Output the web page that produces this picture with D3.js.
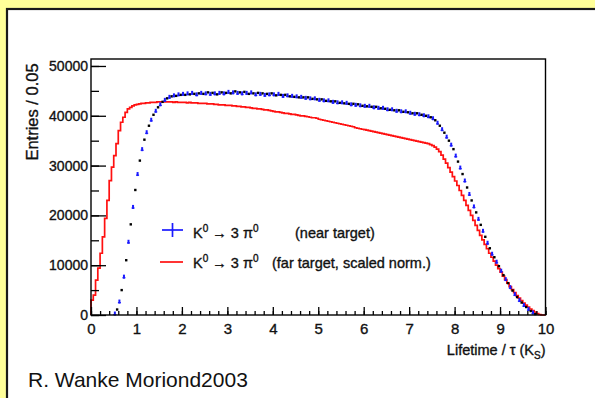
<!DOCTYPE html>
<html><head><meta charset="utf-8">
<script src="https://cdn.jsdelivr.net/npm/d3@7"></script>
<style>
html,body{margin:0;padding:0;background:#ffff99;}
svg{display:block;}
text{font-family:"Liberation Sans",Arial,Helvetica,sans-serif;}
.hv{fill:#111;stroke:#111;stroke-width:0.35px;}
</style></head>
<body>
<svg id="c" width="595" height="398"></svg>
<script>
// ---- data (bin width 0.05, bins start at 0.00) ----
const binWidth = 0.05;
const xDomain = [0, 10];
const yDomain = [0, 51400];
const xTickValues = [0,1,2,3,4,5,6,7,8,9,10];
const yTickValues = [0,10000,20000,30000,40000,50000];
const yTickLabels = ["0","10000","20000","30000","40000","50000"];

// near target (points)
const nearTarget = [
  0,0,0,0,0,0,0,0,0,0, 300,1100,2700,5000,7700,11000,14700,18200,21700,25100,
  28300,31000,33300,35200,36700,38000,39200,40200,41000,41700,42300,42800,43200,43500,43800,43900,44100,44000,44300,44200,
  44400,44200,44500,44300,44600,44400,44300,44500,44600,44400,44500,44700,44400,44600,44500,44300,44600,44700,44500,44600,
  44800,44500,44700,44900,44600,44700,44500,44800,44600,44400,44700,44500,44300,44600,44400,44500,44200,44400,44300,44500,
  44300,44100,44400,44200,44000,44200,44100,43900,44000,43800,43900,43700,43800,43700,43600,43700,43500,43400,43500,43300,
  43200,43300,43100,43000,43100,42900,42800,42900,42700,42600,42700,42500,42600,42400,42300,42400,42200,42300,42100,42000,
  42000,41900,42000,41800,41700,41800,41600,41500,41600,41400,41300,41200,41300,41100,41000,41100,40900,40800,40900,40700,
  40600,40500,40400,40500,40300,40200,40100,40000,39900,39700,39500,39100,38600,38000,37300,36600,35800,35000,34200,33300,
  32000,30800,29600,28300,27000,25600,24300,23000,21800,20600,19300,18100,16900,15700,14500,13400,12300,11600,10700,9800,
  8900,8000,7200,6400,5600,4900,4200,3600,3000,2500,2000,1600,1200,800,500,200,0,0,0,0
];
// far target, scaled norm. (histogram)
const farTarget = [
  3000,4000,7000,9400,12400,15700,19400,23000,27000,29700,32000,34400,37000,38700,39700,40700,41400,41700,42000,42200,
  42300,42400,42500,42500,42600,42600,42700,42700,42700,42800,42800,42800,42800,42800,42800,42800,42700,42800,42700,42700,
  42700,42700,42600,42700,42600,42600,42600,42500,42500,42500,42500,42400,42400,42400,42300,42300,42200,42200,42200,42100,
  42100,42100,42000,42000,41900,41900,41800,41800,41700,41700,41600,41500,41500,41400,41400,41300,41200,41200,41100,41000,
  40900,40800,40800,40700,40600,40500,40500,40400,40300,40300,40200,40100,40000,40000,39900,39800,39700,39600,39600,39500,
  39300,39200,39100,39000,38900,38800,38700,38600,38500,38400,38300,38200,38100,38000,37900,37800,37600,37500,37400,37300,
  37200,37100,37000,36900,36800,36700,36600,36500,36400,36300,36200,36100,36000,35900,35800,35700,35600,35500,35400,35300,
  35200,35100,35000,34900,34800,34700,34600,34500,34400,34200,34000,33700,33300,32800,32100,31300,30500,29600,28700,27800,
  26900,26000,25000,24000,23000,22000,21000,20000,19000,18000,17000,16000,15100,14200,13300,12400,11600,10800,10000,9300,
  8600,7800,7100,6400,5700,5100,4500,3900,3400,2900,2400,2000,1600,1200,900,600,300,100,0,0
];
const legendLabels = ["(near target)", "(far target, scaled norm.)"];
const xTitle = "Lifetime / \u03c4 (K";
const yTitle = "Entries / 0.05";
const footer = "R. Wanke Moriond2003";

// ---- drawing ----
const svg = d3.select("#c");
// white panel
svg.append("rect").attr("x",7).attr("y",9).attr("width",600).attr("height",400)
  .attr("fill","#fff").attr("stroke","#1a1a1a").attr("stroke-width",2.2);

const L=91, R=545.5, T=59, B=315;
const x = d3.scaleLinear().domain(xDomain).range([L,R]);
const y = d3.scaleLinear().domain(yDomain).range([B,T]);

// far target step histogram
const stepPts = [[0,0]];
farTarget.forEach((v,i)=>{ stepPts.push([i*binWidth, v]); stepPts.push([(i+1)*binWidth, v]); });
stepPts.push([xDomain[1],0]);
svg.append("path")
  .attr("d", d3.line().x(d=>x(d[0])).y(d=>y(d[1]))(stepPts))
  .attr("fill","none").attr("stroke","#ff1010").attr("stroke-width",1.7);

// near target points
const pts = nearTarget.map((v,i)=>({x:(i+0.5)*binWidth, v, i})).filter(d=>d.v>0);
const g = svg.append("g");
pts.forEach(d=>{
  const cx = x(d.x), cy = y(d.v);
  if (d.i % 2 === 0) {
    g.append("rect").attr("x",cx-1).attr("y",cy-2).attr("width",2).attr("height",4).attr("fill","#1a1aff");
    g.append("rect").attr("x",cx-1.5).attr("y",cy+0.5).attr("width",3).attr("height",1.2).attr("fill","#1a1aff");
  } else {
    g.append("rect").attr("x",cx-1.2).attr("y",cy-1.2).attr("width",2.4).attr("height",2.4).attr("fill","#000");
  }
});

// frame
svg.append("rect").attr("x",L).attr("y",T).attr("width",R-L).attr("height",B-T)
  .attr("fill","none").attr("stroke","#000").attr("stroke-width",1.4);

// x axis (ticks inward)
const xAxis = svg.append("g").attr("transform",`translate(0,${B})`);
xAxis.call(d3.axisBottom(x).tickValues(d3.range(0,10.001,0.2)).tickSize(-4).tickFormat(""))
  .call(s=>s.select(".domain").remove());
xAxis.append("g").call(d3.axisBottom(x).tickValues(xTickValues).tickSize(-8).tickFormat(d3.format("d")).tickPadding(16))
  .call(s=>s.select(".domain").remove());
xAxis.selectAll("line").attr("stroke","#000").attr("stroke-width",1.3);
xAxis.selectAll("text").attr("font-size",15).attr("class","hv").attr("dy","0.2em");

// y axis (ticks inward)
const yAxis = svg.append("g").attr("transform",`translate(${L},0)`);
yAxis.call(d3.axisLeft(y).tickValues(d3.range(0,50001,5000)).tickSize(-8).tickFormat(""))
  .call(s=>s.select(".domain").remove());
yAxis.append("g").call(d3.axisLeft(y).tickValues(yTickValues).tickSize(-15)
    .tickFormat((d,i)=>yTickLabels[i]).tickPadding(3))
  .call(s=>s.select(".domain").remove());
yAxis.selectAll("line").attr("stroke","#000").attr("stroke-width",1.3);
yAxis.selectAll("text").attr("font-size",14).attr("class","hv");

// axis titles
const xt = svg.append("text").attr("x",R).attr("y",355).attr("text-anchor","end")
  .attr("font-size",14.5).attr("class","hv");
xt.append("tspan").text(xTitle);
xt.append("tspan").attr("font-size",10).attr("dy",4).text("S");
xt.append("tspan").attr("dy",-4).text(")");

svg.append("text").attr("transform","translate(38,112) rotate(-90)").attr("text-anchor","middle")
  .attr("font-size",16.5).attr("class","hv").text(yTitle);

// legend
function decay(t){
  t.append("tspan").text("K");
  t.append("tspan").attr("font-size",10).attr("dy",-6).text("0");
  t.append("tspan").attr("dy",6).text(" \u2192 3 \u03c0");
  t.append("tspan").attr("font-size",10).attr("dy",-6).text("0");
}
// row 1
svg.append("line").attr("x1",162).attr("x2",183).attr("y1",230).attr("y2",230).attr("stroke","#1a1aff").attr("stroke-width",1.7);
svg.append("line").attr("x1",172.5).attr("x2",172.5).attr("y1",223).attr("y2",237).attr("stroke","#1a1aff").attr("stroke-width",1.7);
const t1 = svg.append("text").attr("x",193).attr("y",238).attr("font-size",14.5).attr("class","hv");
decay(t1);
svg.append("text").attr("x",295).attr("y",238).attr("font-size",14.5).attr("class","hv").text(legendLabels[0]);
// row 2
svg.append("line").attr("x1",160).attr("x2",183).attr("y1",262).attr("y2",262).attr("stroke","#ff1010").attr("stroke-width",1.7);
const t2 = svg.append("text").attr("x",193).attr("y",268).attr("font-size",14.5).attr("class","hv");
decay(t2);
svg.append("text").attr("x",272).attr("y",268).attr("font-size",14.5).attr("class","hv").text(legendLabels[1]);

// footer
svg.append("text").attr("x",28).attr("y",387).attr("font-family","'DejaVu Sans',sans-serif")
  .attr("font-size",21).attr("fill","#111").text(footer);
</script>
</body></html>
